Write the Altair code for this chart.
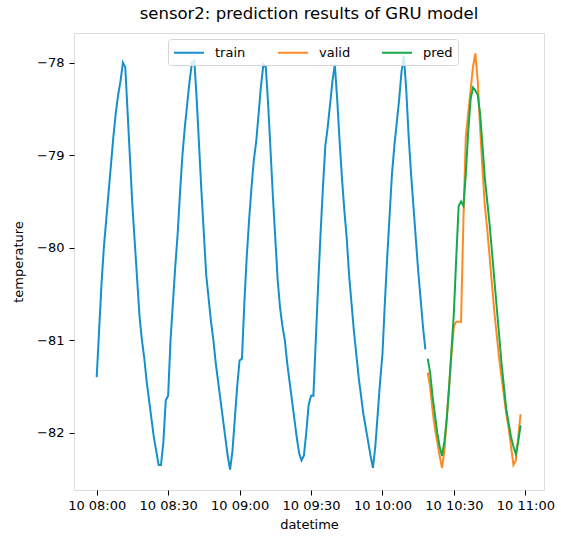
import altair as alt
import pandas as pd

train_vals = [
    -81.40, -80.90, -80.40, -80.00, -79.70, -79.40, -79.10, -78.80, -78.55, -78.35,
    -78.20, -78.00, -78.05, -78.55, -79.05, -79.55, -79.95, -80.35, -80.75, -81.00,
    -81.20, -81.45, -81.65, -81.85, -82.05, -82.20, -82.35, -82.35, -82.10, -81.65,
    -81.60, -81.00, -80.60, -80.20, -79.85, -79.40, -79.00, -78.70, -78.45, -78.20,
    -78.00, -77.98, -78.40, -78.90, -79.40, -79.85, -80.30, -80.55, -80.80, -81.00,
    -81.25, -81.45, -81.65, -81.85, -82.05, -82.25, -82.40, -82.20, -81.85, -81.50,
    -81.22, -81.20, -80.60, -80.10, -79.70, -79.35, -79.05, -78.85, -78.55, -78.25,
    -78.02, -78.05, -78.45, -78.95, -79.45, -79.90, -80.35, -80.65, -80.85, -81.00,
    -81.25, -81.45, -81.65, -81.85, -82.05, -82.22, -82.30, -82.25, -82.00, -81.70,
    -81.60, -81.60, -81.00, -80.40, -79.85, -79.35, -78.90, -78.70, -78.45, -78.20,
    -78.02, -78.40, -78.85, -79.25, -79.60, -79.90, -80.30, -80.60, -80.90, -81.15,
    -81.40, -81.60, -81.80, -81.95, -82.10, -82.25, -82.38, -82.15, -81.80, -81.45,
    -81.15, -80.60, -80.10, -79.65, -79.20, -78.90, -78.65, -78.40, -78.10, -77.93,
    -78.30, -78.80, -79.20, -79.55, -79.90, -80.25, -80.55, -80.85, -81.10,
]

valid_vals = [
    -81.35, -81.50, -81.75, -81.95, -82.10, -82.25, -82.38, -82.20, -81.85, -81.50,
    -81.15, -80.85, -80.80, -80.80, -80.80, -79.70, -78.80, -78.55, -78.30, -78.05,
    -77.90, -78.20, -78.70, -79.15, -79.55, -79.80, -80.10, -80.40, -80.70, -80.95,
    -81.20, -81.40, -81.60, -81.80, -81.95, -82.15, -82.35, -82.30, -82.05, -81.80,
]

pred_vals = [
    -81.20, -81.35, -81.60, -81.80, -82.00, -82.15, -82.25, -82.10, -81.85, -81.50,
    -81.10, -80.70, -80.10, -79.55, -79.50, -79.55, -79.20, -78.75, -78.40, -78.27,
    -78.30, -78.35, -78.55, -78.90, -79.25, -79.50, -79.75, -80.05, -80.35, -80.65,
    -80.95, -81.25, -81.50, -81.75, -81.90, -82.05, -82.15, -82.23, -82.10, -81.92,
]

series_names = ["train", "valid", "pred"]
series_colors = ["#1690cc", "#ff8a24", "#13ab4a"]
y_ticks = [-78, -79, -80, -81, -82]
x_tick_hours = [(8, 0), (8, 30), (9, 0), (9, 30), (10, 0), (10, 30), (11, 0)]

start = pd.Timestamp("2021-01-10 08:00:00")
rows = []
for i, v in enumerate(train_vals):
    rows.append({"time": (start + pd.Timedelta(minutes=i)).strftime("%Y-%m-%dT%H:%M:%S"),
                 "value": v, "series": "train"})
offset = len(train_vals)
for name, vals in (("valid", valid_vals), ("pred", pred_vals)):
    for i, v in enumerate(vals):
        rows.append({"time": (start + pd.Timedelta(minutes=offset + i)).strftime("%Y-%m-%dT%H:%M:%S"),
                     "value": v, "series": name})
df = pd.DataFrame(rows)


def dt(h, m, s=0):
    return alt.DateTime(year=2021, month=1, date=10, hours=h, minutes=m, seconds=s)


FONT = "DejaVu Sans"

chart = alt.Chart(df).mark_line(strokeWidth=2, clip=True).encode(
    x=alt.X(
        "time:T",
        scale=alt.Scale(domain=[dt(7, 50, 28), dt(11, 7, 50)]),
        axis=alt.Axis(
            values=[dt(h, m) for h, m in x_tick_hours],
            format="%d %H:%M",
            title="datetime",
            grid=False,
            domain=False,
            tickSize=5,
            tickColor="#000",
            labelPadding=4,
            labelFontSize=13,
            labelFont=FONT,
            labelColor="#000",
            labelFlush=False,
            labelOverlap=False,
            titleFont=FONT,
            titleFontSize=13,
            titleFontWeight="normal",
            titleColor="#000",
            titlePadding=6,
        ),
    ),
    y=alt.Y(
        "value:Q",
        scale=alt.Scale(domain=[-82.62, -77.68], zero=False, nice=False),
        axis=alt.Axis(
            values=y_ticks,
            format="d",
            title="temperature",
            grid=False,
            domain=False,
            tickSize=5,
            tickColor="#000",
            labelPadding=5,
            labelFontSize=13,
            labelFont=FONT,
            labelColor="#000",
            labelFlush=False,
            titleFont=FONT,
            titleFontSize=13,
            titleFontWeight="normal",
            titleColor="#000",
            titlePadding=11,
        ),
    ),
    color=alt.Color(
        "series:N",
        scale=alt.Scale(domain=series_names, range=series_colors),
        legend=alt.Legend(
            title=None,
            orient="none",
            legendX=94,
            legendY=6,
            direction="horizontal",
            columns=3,
            gridAlign="all",
            columnPadding=27,
            symbolType="M-1,0H3",
            symbolSize=225,
            symbolStrokeWidth=2,
            labelFont=FONT,
            labelFontSize=13,
            labelColor="#000",
            labelOffset=25,
            padding=5,
            strokeColor="#d6d6d6",
            fillColor="rgba(255,255,255,0.8)",
            cornerRadius=3,
        ),
    ),
    detail="series:N",
).properties(
    width=470,
    height=457,
    title=alt.TitleParams(
        "sensor2: prediction results of GRU model",
        font=FONT,
        fontSize=16.5,
        fontWeight="normal",
        color="#000",
        anchor="middle",
        offset=-2,
        baseline="alphabetic",
    ),
    padding={"left": 74, "top": 33, "right": 17, "bottom": 48},
    autosize=alt.AutoSizeParams(type="none"),
).configure_view(
    stroke="#000", strokeWidth=1
).configure(background="white")

chart.save("out.html", embed_options={"renderer": "svg", "actions": False})
